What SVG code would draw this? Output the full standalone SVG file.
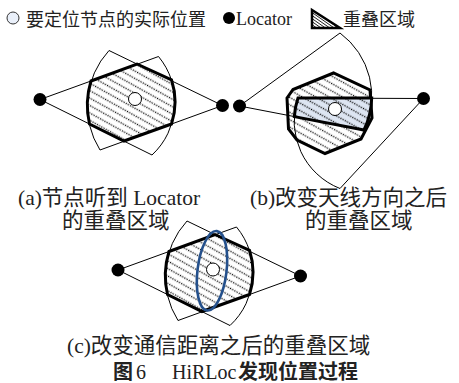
<svg xmlns="http://www.w3.org/2000/svg" width="459" height="383" viewBox="0 0 459 383">
<style>
.thin{fill:none;stroke:#000;stroke-width:1}
.bold{fill:none;stroke:#000;stroke-width:3;stroke-linejoin:miter}
.dot{fill:#000}
.node{fill:#fff;stroke:#000;stroke-width:1}
.cap{font-family:"Liberation Serif","Noto Sans CJK SC",serif;font-size:21.5px;fill:#222}
.leg{font-family:"Liberation Serif","Noto Sans CJK SC",serif;font-size:18px;fill:#222}
.ttl{font-family:"Liberation Serif","Noto Sans CJK SC",serif;font-size:20px;fill:#222}
</style>
<defs>
<pattern id="hatch" patternUnits="userSpaceOnUse" width="10" height="6.5" patternTransform="rotate(29)">
<line x1="0" y1="3.25" x2="10" y2="3.25" stroke="#000" stroke-width="1.2" stroke-dasharray="1.2 1.3"/>
</pattern>
<pattern id="hatch-fine" patternUnits="userSpaceOnUse" width="4" height="2.5" patternTransform="rotate(35)">
<line x1="0" y1="1.25" x2="4" y2="1.25" stroke="#000" stroke-width="0.8"/>
</pattern>
</defs>

<!-- legend -->
<g id="legend">
<circle cx="13" cy="18" r="6" fill="#eaf0fa" stroke="#333" stroke-width="1"/>
<text class="leg" x="26" y="26">要定位节点的实际位置</text>
<circle cx="229" cy="18" r="6" class="dot"/>
<text class="leg" x="236" y="25" font-size="17">Locator</text>
<polygon points="312,10 312,28 340,28" fill="url(#hatch-fine)" stroke="#000" stroke-width="2.5"/>
<text class="leg" x="343" y="26">重叠区域</text>
</g>

<!-- diagram a -->
<g id="diagram-a">
<g id="a-connectors">
<path class="thin" d="M40,99.5 L158.5,56.5 A71.8,71.8 0 0 1 152,155 Z"/>
<path class="thin" d="M222.5,105.5 L109,50.5 A82.4,82.4 0 0 0 100,150 Z"/>
</g>
<g id="a-overlap">
<path d="M91,81 L137,64 L171.5,79.8 A71.8,71.8 0 0 1 171.5,124 L124,141 L89.5,124 A82.4,82.4 0 0 1 91,81 Z" fill="#fff"/>
<path d="M91,81 L137,64 L171.5,79.8 A71.8,71.8 0 0 1 171.5,124 L124,141 L89.5,124 A82.4,82.4 0 0 1 91,81 Z" class="bold" style="fill:url(#hatch)"/>
</g>
<g id="a-locator-left"><circle cx="40" cy="99.5" r="6.5" class="dot"/></g>
<g id="a-locator-right"><circle cx="222.5" cy="105.5" r="6.5" class="dot"/></g>
<g id="a-node"><circle cx="135" cy="99" r="6.5" class="node"/></g>
</g>

<!-- diagram b -->
<g id="diagram-b">
<g id="b-old-overlap">
<path d="M287,98 L293,89.5 L333.5,73 L370,90 L372,118 L361,139 L325,153.5 L297,140 L288.5,129 Z" fill="#fff"/>
<path d="M287,98 L293,89.5 L333.5,73 L370,90 L372,118 L361,139 L325,153.5 L297,140 L288.5,129 Z" class="bold" style="fill:url(#hatch)"/>
</g>
<g id="b-new-overlap">
<path d="M298,98 L371.7,98 A78.3,78.3 0 0 1 364,130 L294.3,116.6 A72.25,72.25 0 0 1 298,98 Z" fill="#dde5f2"/>
<path d="M298,98 L371.7,98 A78.3,78.3 0 0 1 364,130 L294.3,116.6 A72.25,72.25 0 0 1 298,98 Z" fill="url(#hatch)"/>
</g>
<g id="b-connectors">
<path class="thin" d="M239.5,106 L340,33 A78.3,78.3 0 0 1 364,130 Z"/>
<path class="thin" d="M423.5,98.5 L298,98 A72.25,72.25 0 0 0 340,188.5 Z"/>
</g>
<path class="bold" d="M298,98 L371.7,98 A78.3,78.3 0 0 1 364,130 L294.3,116.6 A72.25,72.25 0 0 1 298,98 Z"/>
<g id="b-locator-left"><circle cx="239.5" cy="106" r="6.5" class="dot"/></g>
<g id="b-locator-right"><circle cx="423.5" cy="98.5" r="6.5" class="dot"/></g>
<g id="b-node"><circle cx="335" cy="109" r="6.5" class="node"/></g>
</g>

<!-- diagram c -->
<g id="diagram-c" transform="translate(78,170.5)">
<g id="c-connectors">
<path class="thin" d="M40,99.5 L158.5,56.5 A71.8,71.8 0 0 1 152,155 Z"/>
<path class="thin" d="M222.5,105.5 L109,50.5 A82.4,82.4 0 0 0 100,150 Z"/>
</g>
<g id="c-overlap">
<path d="M91,81 L137,64 L171.5,79.8 A71.8,71.8 0 0 1 171.5,124 L124,141 L89.5,124 A82.4,82.4 0 0 1 91,81 Z" fill="#fff"/>
<path d="M91,81 L137,64 L171.5,79.8 A71.8,71.8 0 0 1 171.5,124 L124,141 L89.5,124 A82.4,82.4 0 0 1 91,81 Z" class="bold" style="fill:url(#hatch)"/>
</g>
<g id="c-range"><ellipse cx="134" cy="100.3" rx="14.5" ry="40" transform="rotate(7 134 100.3)" fill="none" stroke="#24508c" stroke-width="2.6"/></g>
<g id="c-locator-left"><circle cx="40" cy="99.5" r="6.5" class="dot"/></g>
<g id="c-locator-right"><circle cx="222.5" cy="105.5" r="6.5" class="dot"/></g>
<g id="c-node"><circle cx="135" cy="99" r="6.5" class="node"/></g>
</g>

<!-- captions -->
<g id="captions">
<text class="cap" x="18" y="205">(a)节点听到 Locator</text>
<text class="cap" x="62" y="228">的重叠区域</text>
<text class="cap" x="250" y="205">(b)改变天线方向之后</text>
<text class="cap" x="305" y="228">的重叠区域</text>
<text class="cap" x="67" y="353">(c)改变通信距离之后的重叠区域</text>
<text class="ttl" y="379"><tspan x="113" font-weight="bold">图</tspan><tspan x="136">6</tspan><tspan x="172">HiRLoc</tspan><tspan x="238" font-weight="bold">发现位置过程</tspan></text>
</g>
</svg>
